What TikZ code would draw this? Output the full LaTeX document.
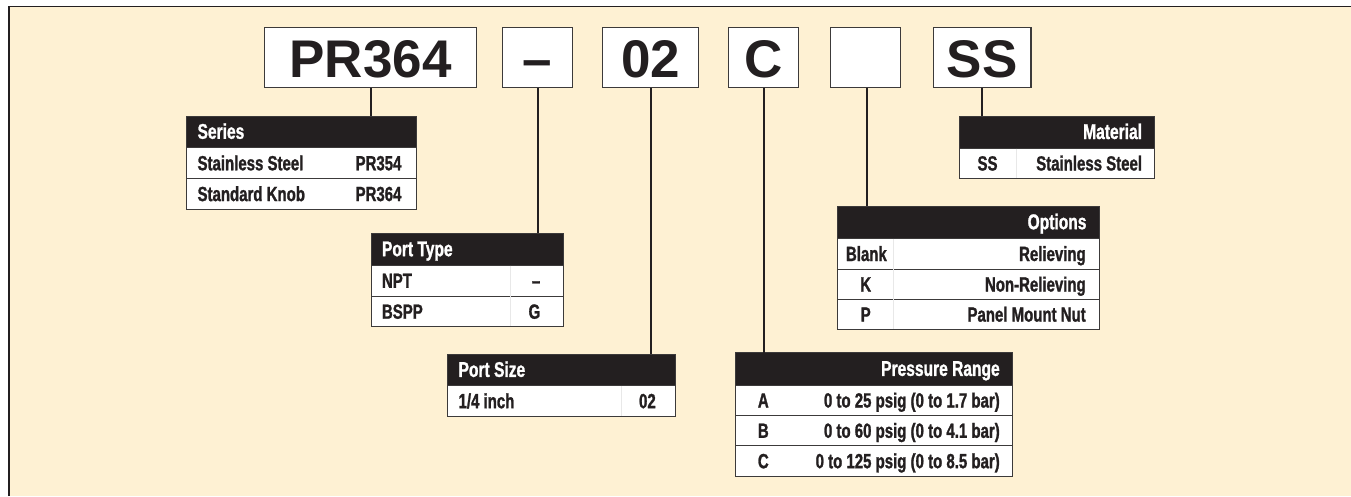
\documentclass[tikz,border=0pt]{standalone}
\usepackage{fontspec}
\setmainfont{Liberation Sans}
\newfontfamily\condf[FakeStretch=0.73,FakeBold=1.2]{Liberation Sans}
\definecolor{cream}{HTML}{FEF1D3}
\definecolor{ink}{HTML}{231F20}
\definecolor{rule}{HTML}{3C3A3A}
\definecolor{faint}{HTML}{E8E8E8}
\begin{document}
\begin{tikzpicture}[x=0.75pt,y=-0.75pt,
  topbox/.style={draw=rule,fill=white,line width=1.1pt,anchor=north west,inner sep=0pt,
     text height=30pt,text depth=0pt,font=\fontsize{39.75}{40}\selectfont\bfseries,text=ink},
  conn/.style={draw=ink,line width=1.5pt},
  hdrbox/.style={fill=ink,draw=rule,line width=0.7pt},
  rowbox/.style={fill=white,draw=rule,line width=0.7pt},
  divl/.style={draw=faint,line width=0.5pt},
  htxt/.style={inner sep=0pt,text=white,font=\condf\bfseries\fontsize{16}{17}\selectfont},
  rtxt/.style={inner sep=0pt,text=ink,font=\condf\bfseries\fontsize{15.4}{16}\selectfont}]
\useasboundingbox (0,0) rectangle (1351,496);
% frame
\fill[cream] (8.7,6.5) rectangle (1351,496);
\draw[ink,line width=1.3pt] (8.7,496) -- (8.7,6.5) -- (1351,6.5);

% top code boxes
\node[topbox,minimum width=158.8pt,minimum height=45pt] (pr) at (264,27) {PR364};
\node[topbox,minimum width=52.5pt,minimum height=45pt] (dash) at (501.7,27) {–};
\node[topbox,minimum width=72.2pt,minimum height=45pt] (sz) at (601.7,27) {02};
\node[topbox,minimum width=52.5pt,minimum height=45pt] (cc) at (728,27) {C};
\node[topbox,minimum width=52.5pt,minimum height=45pt] (blank) at (830,27) {};
\node[topbox,minimum width=72.8pt,minimum height=45pt] (ss) at (933,27) {SS};

% ---- Series table
\path[hdrbox] (186.7,116) rectangle (416.7,147.7);
\path[rowbox] (186.7,147.7) rectangle (416.7,178.3);
\path[rowbox] (186.7,178.3) rectangle (416.7,209.3);
\coordinate (serT) at (370.7,116);
\node[htxt,anchor=base west] (serH) at (197.3,138.8) {Series};
\node[rtxt,anchor=base west] (ser1a) at (197.3,170.3) {Stainless Steel};
\node[rtxt,anchor=base east] (ser1b) at (401.7,170.3) {PR354};
\node[rtxt,anchor=base west] (ser2a) at (197.3,201.1) {Standard Knob};
\node[rtxt,anchor=base east] (ser2b) at (401.7,201.1) {PR364};

% ---- Material table
\path[hdrbox] (959.3,116) rectangle (1154,148);
\path[rowbox] (959.3,148) rectangle (1154,178.3);
\draw[divl] (1016.7,148.5) -- (1016.7,177.8);
\coordinate (matT) at (982.3,116);
\node[htxt,anchor=base east] (matH) at (1142.3,139) {Material};
\node[rtxt,anchor=base] (mat1a) at (987.5,170.5) {SS};
\node[rtxt,anchor=base east] (mat1b) at (1142.3,170.5) {Stainless Steel};

% ---- Port Type table
\path[hdrbox] (371,233.3) rectangle (563.3,265);
\path[rowbox] (371,265) rectangle (563.3,296);
\path[rowbox] (371,296) rectangle (563.3,326.7);
\draw[divl] (510,265.5) -- (510,326.2);
\coordinate (ptT) at (537.7,233.3);
\node[htxt,anchor=base west] (ptH) at (381.7,256.2) {Port Type};
\node[rtxt,anchor=base west] (pt1a) at (381.7,287.8) {NPT};
\node[rtxt,anchor=base east] (pt1b) at (540.5,287.8) {–};
\node[rtxt,anchor=base west] (pt2a) at (381.7,318.7) {BSPP};
\node[rtxt,anchor=base east] (pt2b) at (540.5,318.7) {G};

% ---- Port Size table
\path[hdrbox] (447.3,354) rectangle (675,385.7);
\path[rowbox] (447.3,385.7) rectangle (675,416);
\draw[divl] (621.7,386.2) -- (621.7,415.5);
\coordinate (psT) at (650.7,354);
\node[htxt,anchor=base west] (psH) at (458.3,376.9) {Port Size};
\node[rtxt,anchor=base west] (ps1a) at (458.3,408.2) {1/4 inch};
\node[rtxt,anchor=base east] (ps1b) at (656,408.2) {02};

% ---- Options table
\path[hdrbox] (837.3,206) rectangle (1099,238.3);
\path[rowbox] (837.3,238.3) rectangle (1099,269);
\path[rowbox] (837.3,269) rectangle (1099,299.3);
\path[rowbox] (837.3,299.3) rectangle (1099,329.3);
\draw[divl] (893,238.8) -- (893,328.8);
\coordinate (opT) at (866.7,206);
\node[htxt,anchor=base east] (opH) at (1086.7,229.2) {Options};
\node[rtxt,anchor=base west] (op1a) at (845.7,261) {Blank};
\node[rtxt,anchor=base east] (op1b) at (1086,261) {Relieving};
\node[rtxt,anchor=base] (op2a) at (865.7,291.5) {K};
\node[rtxt,anchor=base east] (op2b) at (1086,291.5) {Non-Relieving};
\node[rtxt,anchor=base] (op3a) at (865.7,321.6) {P};
\node[rtxt,anchor=base east] (op3b) at (1086,321.6) {Panel Mount Nut};

% ---- Pressure Range table
\path[hdrbox] (735,352.7) rectangle (1012,385);
\path[rowbox] (735,385) rectangle (1012,415.3);
\path[rowbox] (735,415.3) rectangle (1012,445.7);
\path[rowbox] (735,445.7) rectangle (1012,476);
\coordinate (prT) at (764.3,352.7);
\node[htxt,anchor=base east] (prH) at (1000,375.9) {Pressure Range};
\node[rtxt,anchor=base] (pr1a) at (763.3,407.5) {A};
\node[rtxt,anchor=base east] (pr1b) at (1000,407.5) {0 to 25 psig (0 to 1.7 bar)};
\node[rtxt,anchor=base] (pr2a) at (763.3,437.8) {B};
\node[rtxt,anchor=base east] (pr2b) at (1000,437.8) {0 to 60 psig (0 to 4.1 bar)};
\node[rtxt,anchor=base] (pr3a) at (763.3,468.2) {C};
\node[rtxt,anchor=base east] (pr3b) at (1000,468.2) {0 to 125 psig (0 to 8.5 bar)};

% connectors
\draw[conn] (serT) -- (serT |- pr.south);
\draw[conn] (ptT) -- (ptT |- dash.south);
\draw[conn] (psT) -- (psT |- sz.south);
\draw[conn] (prT) -- (prT |- cc.south);
\draw[conn] (opT) -- (opT |- blank.south);
\draw[conn] (matT) -- (matT |- ss.south);
\end{tikzpicture}
\end{document}
